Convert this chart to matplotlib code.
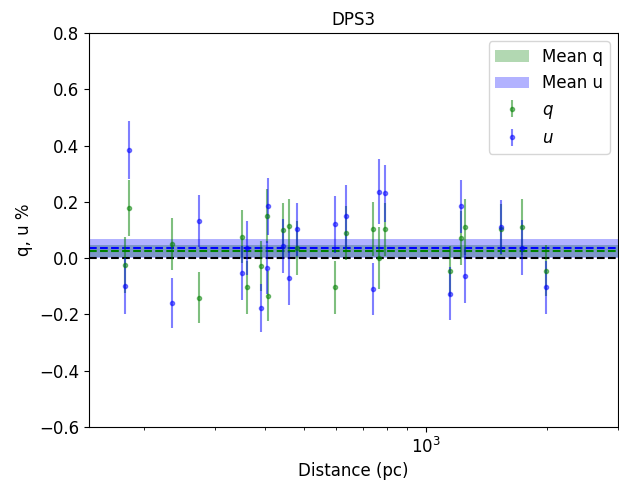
import matplotlib
matplotlib.use("Agg")
import matplotlib.pyplot as plt
import numpy as np

# distances of the stars (pc)
dist = [179, 184, 234, 274, 350, 361, 391, 404, 406, 442, 459, 479,
        594, 635, 739, 765, 791, 1147, 1221, 1249, 1536, 1731, 1985]
# Stokes q, u (%) and their errors
q = [-0.025, 0.179, 0.050, -0.141, 0.076, -0.104, -0.028, 0.150, -0.135, 0.100, 0.115, 0.036,
     -0.104, 0.090, 0.102, -0.001, 0.102, -0.046, 0.072, 0.111, 0.102, 0.111, -0.044]
q_err = [0.10, 0.10, 0.092, 0.09, 0.095, 0.095, 0.09, 0.095, 0.09, 0.095, 0.095, 0.095,
         0.095, 0.095, 0.096, 0.11, 0.095, 0.09, 0.095, 0.10, 0.09, 0.10, 0.09]
u = [-0.098, 0.384, -0.159, 0.133, -0.052, 0.036, -0.178, -0.034, 0.184, 0.043, -0.070, 0.102,
     0.120, 0.150, -0.110, 0.236, 0.230, -0.126, 0.184, -0.063, 0.111, 0.037, -0.104]
u_err = [0.10, 0.103, 0.09, 0.092, 0.095, 0.095, 0.085, 0.095, 0.10, 0.095, 0.095, 0.095,
         0.10, 0.11, 0.093, 0.115, 0.10, 0.095, 0.095, 0.096, 0.096, 0.097, 0.094]

mean_q, mean_q_err = 0.026, 0.021
mean_u, mean_u_err = 0.035, 0.033

fig = plt.figure(figsize=(6.19, 4.83), dpi=100)
ax = fig.add_axes([89/619, 56/483, 529/619, 394/483])

ax.axhspan(mean_q - mean_q_err, mean_q + mean_q_err, color="green", alpha=0.3, lw=0, label="Mean q")
ax.axhspan(mean_u - mean_u_err, mean_u + mean_u_err, color="blue", alpha=0.3, lw=0, label="Mean u")
ax.axhline(mean_q, color="green", ls="--", lw=1.5)
ax.axhline(mean_u, color="blue", ls="--", lw=1.5)
ax.axhline(0, color="black", ls="--", lw=1.5)

ax.errorbar(dist, q, yerr=q_err, fmt=".", color="green", alpha=0.5, label="$q$")
ax.errorbar(dist, u, yerr=u_err, fmt=".", color="blue", alpha=0.5, label="$u$")

ax.set_xscale("log")
ax.set_xlim(146, 3000)
ax.set_ylim(-0.6, 0.8)
ax.set_title("DPS3", fontsize=12)
ax.set_xlabel("Distance (pc)", fontsize=12)
ax.set_ylabel("q, u %", fontsize=12)
ax.tick_params(labelsize=12)
ax.legend(loc="upper right", fontsize=12)

fig.savefig("out.png", dpi=100)
